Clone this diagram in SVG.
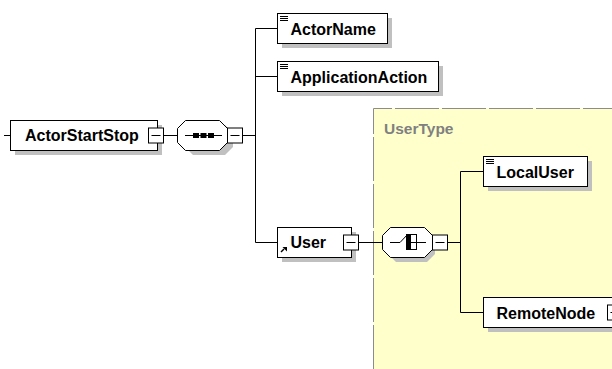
<svg xmlns="http://www.w3.org/2000/svg" width="612" height="369" viewBox="0 0 612 369">
<style>
.box{fill:#fff;stroke:#000;stroke-width:1}
.sh{fill:#c0c0c0}
.ln{fill:none;stroke:#000;stroke-width:1}
.t{font-family:"Liberation Sans",Arial,sans-serif;font-weight:bold;font-size:16px;fill:#000}
.tt{font-family:"Liberation Sans",Arial,sans-serif;font-weight:bold;font-size:15.5px;fill:#808080}
</style>
<defs>
<g id="minus"><rect x="0" y="0" width="15" height="15" class="box"/><line x1="3" y1="7.5" x2="12" y2="7.5" class="ln"/></g>
<g id="elic"><line x1="0" y1="0" x2="8" y2="0" class="ln"/><line x1="0" y1="2" x2="8" y2="2" class="ln"/><line x1="0" y1="4" x2="8" y2="4" class="ln"/></g>
</defs>
<rect width="612" height="369" fill="#fff"/>
<g id="UserType">
<rect x="373.5" y="108.5" width="250" height="270" fill="#ffffcc"/>
<path d="M373.5,369 V108.5 H612" fill="none" stroke="#8c8c8c" stroke-width="1" stroke-dasharray="44 3"/>
<text x="384" y="134" class="tt">UserType</text>
</g>
<g id="connectors">
<line x1="4" y1="135.5" x2="10.5" y2="135.5" class="ln"/>
<line x1="163" y1="135.5" x2="177" y2="135.5" class="ln"/>
<line x1="242.5" y1="135.5" x2="255.5" y2="135.5" class="ln"/>
<line x1="255.5" y1="28.5" x2="255.5" y2="242.5" class="ln"/>
<line x1="255.5" y1="28.5" x2="277.5" y2="28.5" class="ln"/>
<line x1="255.5" y1="76.5" x2="277.5" y2="76.5" class="ln"/>
<line x1="255.5" y1="242.5" x2="277.5" y2="242.5" class="ln"/>
<line x1="358" y1="242.5" x2="382.5" y2="242.5" class="ln"/>
<line x1="447.5" y1="242.5" x2="460.5" y2="242.5" class="ln"/>
<line x1="460.5" y1="171.5" x2="460.5" y2="312.5" class="ln"/>
<line x1="460.5" y1="171.5" x2="483.5" y2="171.5" class="ln"/>
<line x1="460.5" y1="312.5" x2="483.5" y2="312.5" class="ln"/>
</g>
<g id="ActorStartStop">
<rect x="15" y="125" width="147" height="30" class="sh"/>
<rect x="10.5" y="120.5" width="147" height="30" class="box"/>
<text x="25" y="141" class="t">ActorStartStop</text>
<use href="#minus" x="148.5" y="128"/>
</g>
<g id="sequence">
<polygon points="193,125 225,125 233,133 233,147 225,155 193,155 185,147 185,133" class="sh"/>
<polygon points="185.5,120.5 219.5,120.5 227.5,128.5 227.5,142.5 219.5,150.5 185.5,150.5 177.5,142.5 177.5,128.5" class="box"/>
<line x1="185" y1="135.5" x2="222" y2="135.5" class="ln"/>
<rect x="193" y="133" width="6" height="5" fill="#000"/>
<rect x="200.5" y="133" width="6" height="5" fill="#000"/>
<rect x="208" y="133" width="6" height="5" fill="#000"/>
<use href="#minus" x="227.5" y="128"/>
</g>
<g id="ActorName">
<rect x="282" y="18" width="110" height="30" class="sh"/>
<rect x="277.5" y="13.5" width="110" height="30" class="box"/>
<use href="#elic" x="280" y="16.5"/>
<text x="290.5" y="34.5" class="t">ActorName</text>
</g>
<g id="ApplicationAction">
<rect x="282" y="66" width="161" height="30" class="sh"/>
<rect x="277.5" y="61.5" width="161" height="30" class="box"/>
<use href="#elic" x="280" y="64.5"/>
<text x="290.5" y="82.5" class="t">ApplicationAction</text>
</g>
<g id="User">
<rect x="282" y="232" width="74" height="30" class="sh"/>
<rect x="277.5" y="227.5" width="74" height="30" class="box"/>
<line x1="281" y1="252" x2="284" y2="249" stroke="#000" stroke-width="1.5"/>
<polygon points="282.5,247 287,247 287,251.5" fill="#000"/>
<text x="290.5" y="248" class="t">User</text>
<use href="#minus" x="343.5" y="235"/>
</g>
<g id="choice">
<polygon points="396,232 427,232 435,240 435,254 427,262 396,262 388,254 388,240" class="sh"/>
<polygon points="390.5,227.5 424.5,227.5 432.5,235.5 432.5,249.5 424.5,257.5 390.5,257.5 382.5,249.5 382.5,235.5" class="box"/>
<polyline points="390,242.5 400,242.5 408,234" class="ln"/>
<rect x="406" y="234" width="4" height="16" fill="#000"/>
<rect x="410.5" y="234.5" width="6" height="15" class="ln"/>
<line x1="410" y1="242.5" x2="426" y2="242.5" class="ln"/>
<use href="#minus" x="432.5" y="235"/>
</g>
<g id="LocalUser">
<rect x="488" y="161" width="104" height="30" class="sh"/>
<rect x="483.5" y="156.5" width="104" height="30" class="box"/>
<use href="#elic" x="486" y="159.5"/>
<text x="496.5" y="177.5" class="t">LocalUser</text>
</g>
<g id="RemoteNode">
<rect x="488" y="302" width="140" height="30" class="sh"/>
<rect x="483.5" y="297.5" width="140" height="30" class="box"/>
<text x="496.5" y="318.5" class="t">RemoteNode</text>
<use href="#minus" x="607.5" y="305"/>
</g>
</svg>
